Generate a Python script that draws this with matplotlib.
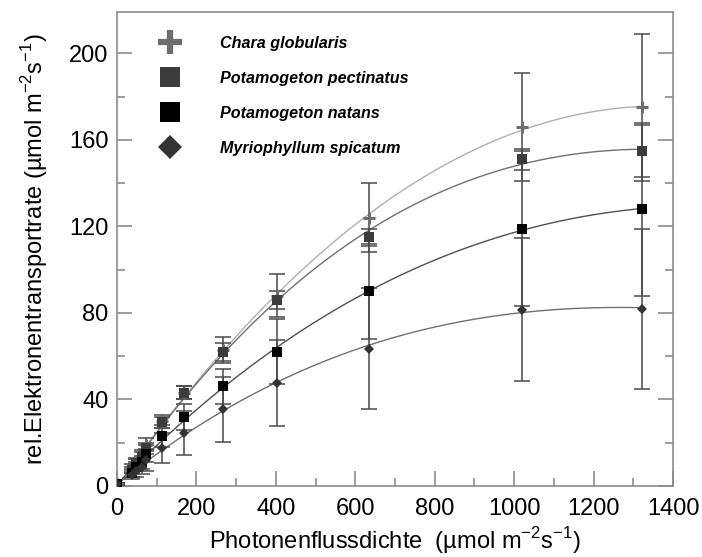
import matplotlib
matplotlib.use('Agg')
import matplotlib.pyplot as plt
from matplotlib.lines import Line2D
import numpy as np

plt.rcParams['font.family'] = ['Liberation Sans', 'DejaVu Sans']
plt.rcParams['mathtext.fontset'] = 'custom'
plt.rcParams['mathtext.rm'] = 'Liberation Sans'

# photon flux density steps
light = [0, 37, 49, 62, 74, 113, 169, 267, 402, 635, 1020, 1322]

species = ['Chara globularis', 'Potamogeton pectinatus',
           'Potamogeton natans', 'Myriophyllum spicatum']

chara = [1, 8, 11, 14, 19, 30, 43, 63, 88, 124, 166, 175]
chara_err = [0.5, 2, 2, 2.5, 3, 3, 3, 6, 10, 16, 25, 34]

pectinatus = [1, 7.5, 10.5, 13.5, 17.5, 29.5, 43, 62, 86, 115, 151, 155]
pectinatus_err = [0.5, 1.5, 2, 2, 2.5, 2.5, 3, 4, 4, 4, 5, 12]

natans = [1, 6, 9, 11, 15, 23, 32, 46, 62, 90, 119, 128]
natans_err = [0.5, 2, 2, 3, 4, 5, 6, 8, 15, 22, 36, 40]

myrio = [1, 5, 7, 9, 12, 17.5, 24.5, 35.5, 47.5, 63.5, 81.5, 82]
myrio_err = [0.5, 2, 3, 3.5, 5, 7, 10, 15, 20, 28, 33, 37]

series = [chara, pectinatus, natans, myrio]
errors = [chara_err, pectinatus_err, natans_err, myrio_err]

markers = ['+', 's', 's', 'D']
marker_colors = ['#6e6e6e', '#3c3c3c', '#000000', '#333333']
marker_sizes = [9, 7, 7.5, 5.5]
marker_edges = [2.2, 0, 0, 0]
curve_colors = ['#b0b0b0', '#707070', '#505050', '#707070']

fig = plt.figure(figsize=(7.02, 5.57), dpi=100)
ax = fig.add_axes([0.1667, 0.1275, 0.792, 0.8505])

x = np.array(light, dtype=float)
xs = np.linspace(0, x.max(), 300)

# fitted curves (cubic least squares through the means)
for y, c in zip(series, curve_colors):
    coef = np.polyfit(x, np.array(y, dtype=float), 3)
    ax.plot(xs, np.polyval(coef, xs), color=c, lw=1.0, zorder=2)

for y, e in zip(series, errors):
    ax.errorbar(x, y, yerr=e, fmt='none', ecolor='#4a4a4a', elinewidth=1.1,
                capsize=5.5, capthick=1.1, zorder=3)

for y, m, c, s, mew in zip(series, markers, marker_colors, marker_sizes, marker_edges):
    ax.plot(x, y, linestyle='none', marker=m, color=c, markersize=s,
            markeredgewidth=mew, zorder=4)

ax.set_xlim(0, 1400)
ax.set_ylim(0, 219)
ax.set_xticks(np.arange(0, 1401, 200))
ax.set_xticks(np.arange(100, 1400, 200), minor=True)
ax.set_yticks(np.arange(0, 201, 40))
ax.set_yticks(np.arange(20, 220, 40), minor=True)

frame_color = '#8c8c8c'
for sp in ax.spines.values():
    sp.set_color(frame_color)
    sp.set_linewidth(1.2)

ax.tick_params(axis='both', which='both', direction='in', color=frame_color,
               width=1.2, labelsize=17, right=True, top=False)
ax.tick_params(axis='x', which='major', length=11, pad=9)
ax.tick_params(axis='y', which='major', length=11, pad=6)
ax.tick_params(axis='both', which='minor', length=6)

ax.set_xlabel('Photonenflussdichte  (µmol m$^{\\mathregular{-2}}$s$^{\\mathregular{-1}}$)',
              fontsize=17, labelpad=3)
ax.set_ylabel('rel.Elektronentransportrate (µmol m$^{\\mathregular{-2}}$s$^{\\mathregular{-1}}$)',
              fontsize=17, labelpad=14)

handles = [Line2D([], [], linestyle='none', marker=m, color=c,
                  markersize=s, markeredgewidth=mew)
           for m, c, s, mew in zip(markers, marker_colors, [17, 15, 15, 12], [4.5, 0, 0, 0])]
leg = ax.legend(handles, species, loc='upper left', bbox_to_anchor=(0.061, 0.964),
                frameon=False, handlelength=1.6, handletextpad=2.3,
                labelspacing=1.24, borderaxespad=0,
                prop={'family': 'Liberation Sans', 'style': 'italic',
                      'weight': 'bold', 'size': 11.6})

fig.savefig('out.png', dpi=100)
